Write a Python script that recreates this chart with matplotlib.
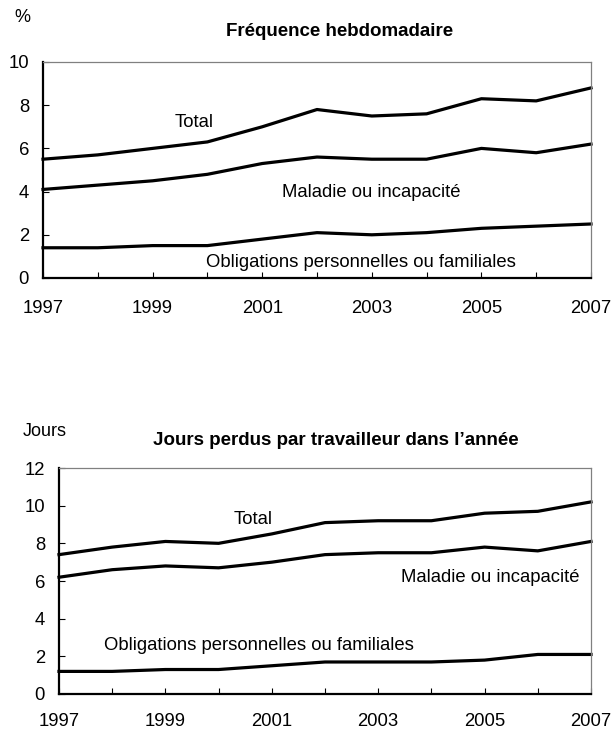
import matplotlib
matplotlib.use('Agg')
import matplotlib.pyplot as plt

plt.rcParams['font.family'] = ['Liberation Sans', 'DejaVu Sans']

years = list(range(1997, 2008))
year_ticks = [1997, 1999, 2001, 2003, 2005, 2007]

# Fréquence hebdomadaire (%)
freq_total = [5.5, 5.7, 6.0, 6.3, 7.0, 7.8, 7.5, 7.6, 8.3, 8.2, 8.8]
freq_maladie = [4.1, 4.3, 4.5, 4.8, 5.3, 5.6, 5.5, 5.5, 6.0, 5.8, 6.2]
freq_oblig = [1.4, 1.4, 1.5, 1.5, 1.8, 2.1, 2.0, 2.1, 2.3, 2.4, 2.5]

# Jours perdus par travailleur dans l'année
jours_total = [7.4, 7.8, 8.1, 8.0, 8.5, 9.1, 9.2, 9.2, 9.6, 9.7, 10.2]
jours_maladie = [6.2, 6.6, 6.8, 6.7, 7.0, 7.4, 7.5, 7.5, 7.8, 7.6, 8.1]
jours_oblig = [1.2, 1.2, 1.3, 1.3, 1.5, 1.7, 1.7, 1.7, 1.8, 2.1, 2.1]

W, H = 611, 732
fig = plt.figure(figsize=(W / 100, H / 100), dpi=100)


def style(ax, ymax, xpad):
    ax.set_xlim(1997, 2007)
    ax.set_ylim(0, ymax)
    ax.set_xticks(years)
    ax.set_xticklabels([str(y) if y in year_ticks else '' for y in years])
    ax.set_yticks(range(0, ymax + 1, 2))
    for s in ('top', 'right'):
        ax.spines[s].set_color('#808080')
        ax.spines[s].set_linewidth(0.9)
    for s in ('left', 'bottom'):
        ax.spines[s].set_color('black')
        ax.spines[s].set_linewidth(1.6)
    ax.tick_params(axis='x', direction='in', length=4, width=0.8,
                   labelsize=13.3, pad=xpad)
    ax.tick_params(axis='y', direction='in', length=4, width=0.8,
                   labelsize=13.3, pad=10)


lab = dict(fontsize=13.3, ha='center', va='center')

ax1 = fig.add_axes([43 / W, 1 - 278 / H, 548 / W, 216 / H])
for s in (freq_total, freq_maladie, freq_oblig):
    ax1.plot(years, s, color='black', lw=2.3, clip_on=False)
style(ax1, 10, 16)
ax1.text(1999.76, 7.22, 'Total', **lab)
ax1.text(2002.99, 3.98, 'Maladie ou incapacité', **lab)
ax1.text(2002.8, 0.74, 'Obligations personnelles ou familiales', **lab)
fig.text(340 / W, 1 - 32 / H, 'Fréquence hebdomadaire', fontsize=13.5,
         fontweight='bold', ha='center', va='center')
fig.text(22 / W, 1 - 17 / H, '%', fontsize=13, ha='center', va='center')

ax2 = fig.add_axes([59 / W, 1 - 694 / H, 532 / W, 226 / H])
for s in (jours_total, jours_maladie, jours_oblig):
    ax2.plot(years, s, color='black', lw=2.3, clip_on=False)
style(ax2, 12, 14)
ax2.text(2000.65, 9.24, 'Total', **lab)
ax2.text(2005.1, 6.21, 'Maladie ou incapacité', **lab)
ax2.text(2000.76, 2.55, 'Obligations personnelles ou familiales', **lab)
fig.text(336 / W, 1 - 441 / H, 'Jours perdus par travailleur dans l\u2019année',
         fontsize=13.5, fontweight='bold', ha='center', va='center')
fig.text(45 / W, 1 - 431 / H, 'Jours', fontsize=13, ha='center', va='center')

fig.savefig('out.png', dpi=100)
